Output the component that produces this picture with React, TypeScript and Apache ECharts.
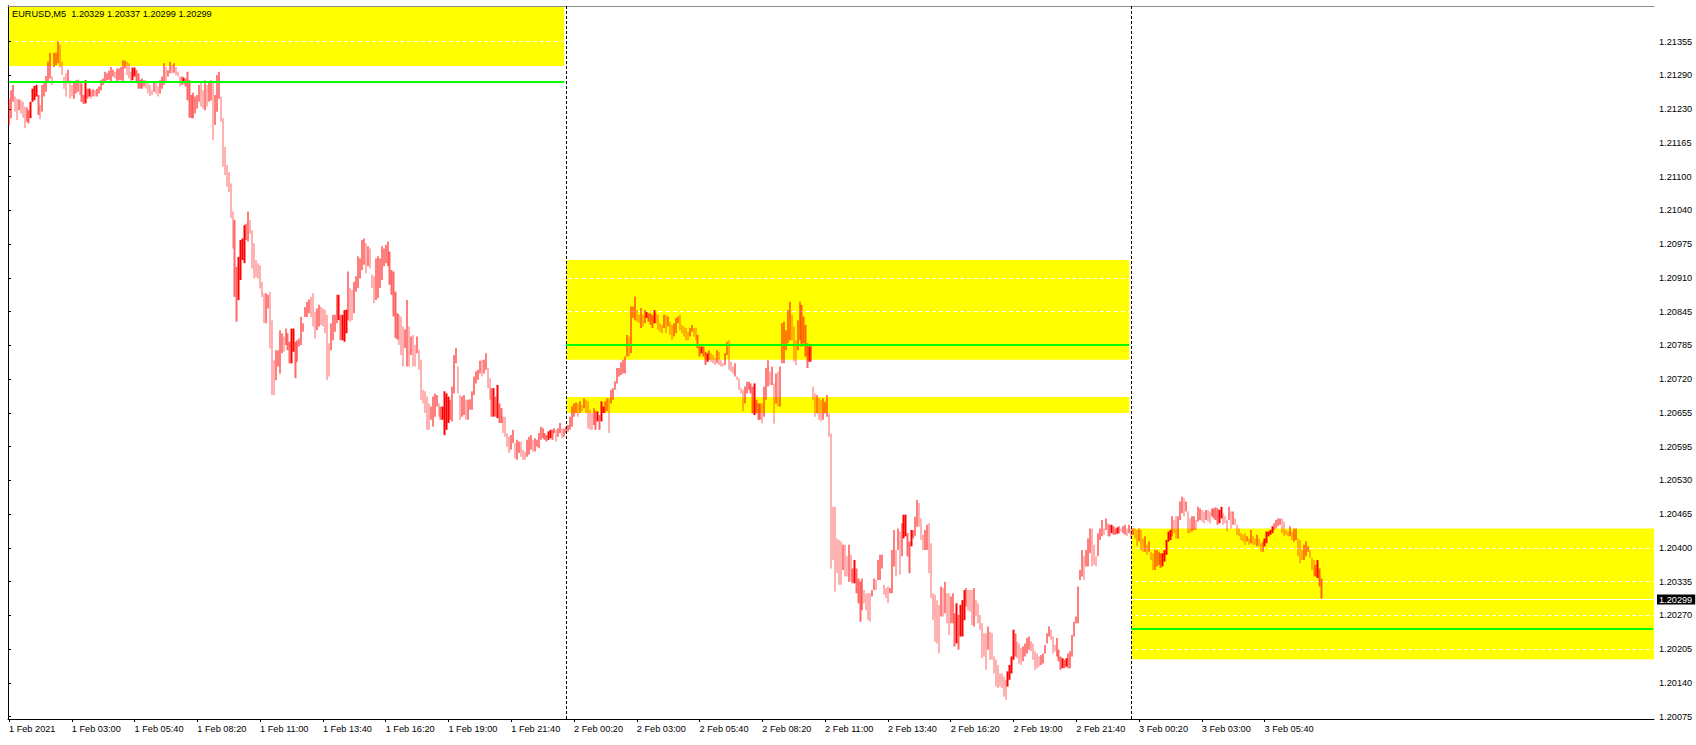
import React, { useEffect, useRef } from "react";
import * as echarts from "echarts";

// ---- quote info ----
const symbolName = "EURUSD";
const timeframe = "M5";
const lastQuote = [1.20329, 1.20337, 1.20299, 1.20299]; // O H L C of the last bar

// ---- bars: [high, low] in points above 1.20000 (5-digit quotes) ----
const barsPart1: number[][] = [
  [1247,1197],[1263,1210],[1273,1241],[1251,1222],[1247,1206],[1246,1225],[1244,1219],[1241,1211],[1232,1191],[1230,1203],
  [1225,1200],[1241,1210],[1266,1241],[1271,1244],[1273,1251],[1254,1216],[1235,1208],[1273,1222],[1276,1251],[1290,1260],
  [1317,1276],[1334,1285],[1289,1273],[1334,1307],[1334,1311],[1356,1314],[1349,1306],[1317,1292],[1289,1266],[1295,1251],
  [1302,1276],[1282,1247],[1273,1251],[1279,1247],[1282,1257],[1283,1260],[1276,1254],[1276,1241],[1254,1237],[1282,1238],
  [1266,1247],[1266,1251],[1263,1247],[1265,1251],[1263,1251],[1266,1251],[1270,1257],[1282,1263],[1285,1273],[1298,1276],
  [1295,1282],[1300,1283],[1307,1279],[1302,1289],[1298,1285],[1304,1279],[1304,1282],[1307,1282],[1320,1279],[1319,1304],
  [1317,1292],[1314,1285],[1298,1279],[1306,1282],[1306,1289],[1301,1279],[1295,1266],[1282,1266],[1285,1266],[1282,1270],
  [1282,1266],[1276,1257],[1273,1252],[1263,1254],[1279,1260],[1277,1257],[1270,1251],[1282,1257],[1289,1266],[1314,1273],
  [1307,1279],[1301,1289],[1317,1295],[1311,1295],[1314,1296],[1307,1292],[1298,1289],[1289,1270],[1289,1273],[1287,1276],
  [1285,1270],[1298,1244],[1282,1211],[1254,1210],[1258,1210],[1251,1219],[1254,1228],[1273,1241],[1279,1232],[1263,1228],
  [1282,1225],[1273,1232],[1279,1241],[1282,1244],[1276,1168],[1254,1197],[1292,1222],[1298,1247],[1251,1203],[1210,1118],
  [1156,1102],[1121,1080],[1108,1070],[1086,1020],[1033,963],[1017,871],[928,824],[947,865],[979,903],[982,941],
  [1007,935],[1010,979],[1033,976],[1017,991],[998,925],[973,906],[941,909],[935,906],[931,887],[900,871],
  [878,821],[878,821],[875,849],[881,773],[827,685],[751,685],[770,713],[770,739],[808,726],[802,764],
  [796,767],[811,780],[802,770],[786,745],[811,745],[811,767],[786,717],[789,748],[792,777],[833,780],
  [821,805],[852,833],[862,833],[866,840],[871,833],[878,815],[843,792],[849,808],[856,815],[852,818],
  [849,815],[846,802],[837,713],[783,720],[821,770],[837,789],[837,805],[875,821],[875,827],[837,789],
  [837,789],[846,786],[847,802]
];

const barsPart2: number[][] = [
  [919,827],[888,824],[884,827],[900,840],[910,881],[948,888],[944,906],[979,922],[982,932],[973,916],
  [967,929],[963,925],[913,888],[910,859],[944,865],[948,869],[944,888],[967,903],[963,929],[970,935],
  [976,929],[957,894],[922,875],[919,834],[881,793],[840,790],[837,780],[834,761],[815,739],[809,774],
  [865,739],[815,739],[796,761],[799,739],[780,739],[796,764],[771,733],[752,676],[695,669],[692,651],
  [682,619],[669,619],[663,638],[682,625],[688,644],[685,663],[669,644],[663,638],[663,638],[692,609],
  [688,619],[682,632],[676,638],[701,635],[761,688],[774,745],[739,688],[685,638],[682,644],[685,647],
  [676,638],[676,638],[677,657],[692,657],[720,685],[730,707],[733,714],[750,726],[752,720],[752,726],
  [764,733],[736,698],[717,676],[698,644],[698,644],[682,644],[704,641],[669,632],[660,632],[644,613],
  [644,606],[613,587],[606,575],[609,581],[619,594],[594,565],[600,562],[597,575],[597,568],[581,562],
  [578,562],[600,568],[606,572],[609,581],[600,578],[603,578],[600,587],[613,584],[625,600],[622,603],
  [613,600],[609,597],[616,600],[619,603],[619,600],[622,613],[619,597],[622,606],[632,613],[622,603],
  [621,606],[625,613],[628,616],[644,619],[663,625],[669,644],[671,651],[669,644],[673,651],[666,654],
  [679,660],[676,651],[673,622],[657,619],[651,619],[660,628],[654,619],[654,635],[647,619],[673,635],
  [663,651],[673,651],[679,654],[679,613],[695,669],[698,676],[711,695],[736,707],[736,720],[747,723],
  [752,726],[758,726],[799,758],[796,758],[853,764],[853,831],[872,827],[846,824],[837,821],[850,812],
  [837,815],[846,821],[843,831],[840,824],[840,818],[837,812],[846,821],[840,821],[837,809],[821,805],
  [818,802],[837,812],[837,802],[834,815],[824,799],[818,790],[821,796],[831,802],[834,821]
];

const barsPart3: number[][] = [
  [837,808],[818,802],[815,796],[812,789],[805,789],[812,796],[818,805],[812,796],[813,789],[799,774],
  [777,758],[777,764],[777,758],[767,742],[764,748],[770,751],[764,748],[761,745],[755,742],[770,745],
  [767,742],[751,739],[745,739],[764,742],[786,761],[789,733],[748,729],[739,726],[745,720],[720,714],
  [717,695],[698,688],[695,654],[701,669],[710,688],[710,695],[707,688],[701,650],[707,647],[676,650],
  [669,638],[669,638],[669,631],[701,644],[736,676],[751,701],[729,704],[739,704],[707,631],[726,669],
  [729,663],[739,663],[821,745],[824,745],[808,770],[846,783],[862,789],[837,789],[815,748],[789,742],
  [827,770],[862,789],[856,777],[834,783],[818,758],[783,736],[777,748],[780,748],[701,676],[688,644],
  [685,650],[679,638],[676,635],[679,638],[672,650],[685,644],[650,606],[612,356],[473,372],[473,312],
  [413,347],[410,325],[407,325],[401,353],[401,341],[379,341],[401,331],[382,331],[356,328],[372,328],
  [356,309],[337,290],[331,255],[337,277],[315,290],[309,277],[309,258],[309,255],[315,303],[337,315],
  [334,315],[372,334],[382,334],[382,356],[325,306],[319,300],[322,290],[319,309],[391,309],[429,360],
  [391,341],[432,391],[426,344],[442,379],[458,413],[458,417],[423,379],[407,347],[429,398],[429,413],
  [454,417],[486,435],[480,435],[451,410],[420,391],[429,391],[439,391],[442,347],[404,300],[309,258],
  [306,217],[296,214],[287,195],[322,265],[319,265],[331,271],[309,252],[309,230],[303,252],[309,252],
  [271,208],[290,214],[268,202],[287,227],[296,227],[315,258],[319,284],[315,277],[315,274],[315,249],
  [319,246],[296,265],[290,252],[268,240],[252,186],[233,189],[233,164],[246,202],[236,183],[233,183],
  [189,157],[183,132],[173,129],[157,132],[157,129],[151,113],[145,107],[161,132],[173,145],[189,157],
  [240,183],[233,189],[217,186]
];

const barsPart4: number[][] = [
  [214,176],[205,173],[208,180],[214,189],[224,195],[227,202],[218,199],[214,183],[199,164],[195,167],
  [189,170],[192,173],[195,176],[211,195],[233,214],[246,227],[240,221],[227,195],[211,199],[224,189],
  [202,180],[189,164],[186,167],[183,167],[186,170],[195,167],[199,167],[230,189],[255,227],[265,252],
  [322,252],[353,334],[391,341],[379,334],[391,360],[413,360],[432,385],[432,360],[401,363],[379,360],
  [423,379],[432,410],[448,417],[432,420],[451,429],[442,417],[439,417],[439,423],[436,420],[432,420],
  [434,422],[436,423],[432,426],[436,423],[439,420],[432,417],[439,423],[432,413],[432,420],[432,413],
  [429,398],[432,407],[429,391],[413,388],[417,388],[401,382],[407,388],[388,372],[385,353],[391,353],
  [391,360],[388,363],[385,357],[385,360],[391,369],[410,382],[426,407],[429,410],[455,417],[448,423],
  [455,413],[455,413],[483,448],[492,461],[489,455],[483,464],[464,423],[451,423],[455,426],[455,429],
  [448,429],[473,445],[470,448],[467,445],[464,442],[467,448],[467,445],[464,442],[470,455],[470,451],
  [472,448],[470,439],[467,442],[473,451],[461,439],[455,442],[448,426],[473,448],[464,432],[464,439],
  [451,439],[439,420],[432,417],[423,410],[420,407],[423,401],[417,407],[413,401],[429,404],[417,401],
  [413,401],[420,398],[413,398],[404,388],[407,388],[413,398],[426,404],[426,417],[429,420],[436,423],
  [442,429],[448,432],[451,436],[451,439],[451,423],[445,417],[429,420],[426,417],[436,417],[426,410],
  [432,407],[432,410],[413,379],[410,366],[391,372],[401,372],[407,379],[398,388],[391,376],[376,353],
  [372,341],[363,341],[372,338],[356,322],[337,299]
];

// ---- time axis ----
const slotCount = 839; // bar slots visible across the chart width (incl. empty right shift)
const labelEvery = 32; // one time label every 32 bars
const timeLabels = [
  "1 Feb 2021", "1 Feb 03:00", "1 Feb 05:40", "1 Feb 08:20", "1 Feb 11:00", "1 Feb 13:40", "1 Feb 16:20",
  "1 Feb 19:00", "1 Feb 21:40", "2 Feb 00:20", "2 Feb 03:00", "2 Feb 05:40", "2 Feb 08:20", "2 Feb 11:00",
  "2 Feb 13:40", "2 Feb 16:20", "2 Feb 19:00", "2 Feb 21:40", "3 Feb 00:20", "3 Feb 03:00", "3 Feb 05:40"
];
const daySeparators = [284, 572]; // bar index of 2 Feb 00:00 and 3 Feb 00:00

// ---- price axis ----
const yMin = 1.200706;
const yMax = 1.214227;
const yTickValues = [
  1.20075, 1.20139, 1.20203, 1.20267, 1.20331, 1.20395, 1.20459, 1.20523, 1.20587, 1.20651, 1.20715,
  1.20779, 1.20843, 1.20907, 1.20971, 1.21035, 1.21099, 1.21163, 1.21227, 1.21291, 1.21355
];
const yTickLabels = [
  "1.20075", "1.20140", "1.20205", "1.20270", "1.20335", "1.20400", "1.20465", "1.20530", "1.20595", "1.20655", "1.20720",
  "1.20785", "1.20845", "1.20910", "1.20975", "1.21040", "1.21100", "1.21165", "1.21230", "1.21290", "1.21355"
];

// ---- drawn objects: zones [startBar, endBar, low, high], levels [startBar, endBar, price] ----
const zones = [
  [0, 283, 1.21309, 1.2150],
  [284, 571, 1.20752, 1.20941],
  [284, 571, 1.20651, 1.20681],
  [572, 838, 1.20184, 1.20432]
];
const levels = [
  [0, 283, 1.21279],
  [284, 571, 1.20780],
  [572, 838, 1.20242]
];

const FONT = "'Liberation Sans', Arial, sans-serif";
const FS = 9.2;

export default function App() {
  const ref = useRef<HTMLDivElement>(null);

  useEffect(() => {
    if (!ref.current) return;
    const chart = echarts.init(ref.current, undefined, { renderer: "svg" });

    const bars = [...barsPart1, ...barsPart2, ...barsPart3, ...barsPart4];
    const toPrice = (p: number) => Math.round((1.2 + p / 100000) * 100000) / 100000;
    const candles = bars.map((b, i) => {
      const hi = toPrice(b[0]);
      const lo = toPrice(b[1]);
      const mid = (b[0] + b[1]) / 2;
      const prev = i > 0 ? (bars[i - 1][0] + bars[i - 1][1]) / 2 : mid;
      const up = mid >= prev;
      return up ? [lo, hi, lo, hi] : [hi, lo, lo, hi];
    });
    const categories = Array.from({ length: slotCount }, (_, i) => String(i));
    const isLabelSlot = (idx: number) => idx % labelEvery === 0 && idx / labelEvery < timeLabels.length;
    const bid = lastQuote[3];

    const option: any = {
      animation: false,
      backgroundColor: "#ffffff",
      title: {
        text: `${symbolName},${timeframe}  ${lastQuote.map((v) => v.toFixed(5)).join(" ")}`,
        left: 12,
        top: 9,
        padding: 0,
        textStyle: { fontSize: FS, fontWeight: "normal", fontFamily: FONT, color: "#000" },
        z: 10
      },
      grid: { left: 8, right: 42, top: 6, bottom: 26, containLabel: false },
      xAxis: [
        {
          type: "category",
          data: categories,
          boundaryGap: true,
          axisLine: { show: true, lineStyle: { color: "#000", width: 1 } },
          axisTick: { show: true, alignWithLabel: true, interval: (i: number) => isLabelSlot(i), length: 3, lineStyle: { color: "#000" } },
          axisLabel: {
            show: true,
            interval: (i: number) => isLabelSlot(i),
            formatter: (v: string) => timeLabels[Number(v) / labelEvery] ?? "",
            align: "left",
            margin: 5,
            fontSize: FS,
            fontFamily: FONT,
            color: "#000"
          },
          splitLine: { show: false }
        },
        {
          type: "value",
          position: "top",
          min: 0,
          max: 1,
          axisLine: { show: true, lineStyle: { color: "#8c8c8c", width: 1 } },
          axisTick: { show: false },
          axisLabel: { show: false },
          splitLine: { show: false }
        }
      ],
      yAxis: [
        {
          type: "value",
          position: "right",
          min: yMin,
          max: yMax,
          z: 0,
          axisLine: { show: true, lineStyle: { color: "#000", width: 1 } },
          axisTick: { show: true, length: 3, customValues: yTickValues, lineStyle: { color: "#000" } },
          axisLabel: {
            show: true,
            customValues: yTickValues,
            formatter: (v: number) => {
              const k = yTickValues.findIndex((t) => Math.abs(t - v) < 1e-7);
              return k >= 0 ? yTickLabels[k] : "";
            },
            margin: 5,
            fontSize: FS,
            fontFamily: FONT,
            color: "#000"
          },
          splitLine: { show: true, lineStyle: { color: "#ffffff", type: [4, 3], width: 1 } }
        },
        {
          type: "value",
          position: "left",
          min: 0,
          max: 1,
          axisLine: { show: true, lineStyle: { color: "#000", width: 1 } },
          axisTick: { show: false },
          axisLabel: { show: false },
          splitLine: { show: false }
        }
      ],
      series: [
        {
          type: "custom",
          name: "zones",
          xAxisIndex: 0,
          yAxisIndex: 0,
          z: -2,
          silent: true,
          encode: { x: [0, 1], y: [2, 3] },
          data: zones,
          renderItem: (params: any, api: any) => {
            const cs = params.coordSys;
            const s = api.value(0), e = api.value(1), lo = api.value(2), hi = api.value(3);
            const pTop = api.coord([s, hi]);
            const pBot = api.coord([e, lo]);
            const x0 = s <= 0 ? cs.x : pTop[0];
            const x1 = e >= slotCount - 1 ? cs.x + cs.width : pBot[0];
            const y0 = Math.max(pTop[1], cs.y);
            const y1 = Math.min(pBot[1], cs.y + cs.height);
            return { type: "rect", shape: { x: x0, y: y0, width: x1 - x0, height: y1 - y0 }, style: { fill: "#ffff00" } };
          }
        },
        {
          type: "custom",
          name: "bid",
          xAxisIndex: 0,
          yAxisIndex: 0,
          z: -1,
          silent: true,
          clip: false,
          encode: { x: 0, y: 1 },
          data: [[0, bid]],
          renderItem: (params: any, api: any) => {
            const cs = params.coordSys;
            const p = api.coord([0, api.value(1)]);
            const y = Math.round(p[1]) + 0.5;
            return {
              type: "group",
              children: [
                { type: "line", shape: { x1: cs.x, y1: y, x2: cs.x + cs.width, y2: y }, style: { stroke: "#ffffff", lineWidth: 1 } },
                {
                  type: "text",
                  x: cs.x + cs.width + 3,
                  y: y,
                  style: {
                    text: api.value(1).toFixed(5),
                    fill: "#ffffff",
                    backgroundColor: "#000000",
                    padding: [0, 3, 0, 2],
                    lineHeight: 10,
                    fontSize: FS,
                    fontFamily: FONT,
                    align: "left",
                    verticalAlign: "middle"
                  }
                }
              ]
            };
          }
        },
        {
          type: "candlestick",
          name: symbolName,
          xAxisIndex: 0,
          yAxisIndex: 0,
          z: 2,
          large: false,
          progressive: 0,
          silent: true,
          barWidth: 1.7,
          data: candles,
          itemStyle: {
            color: "#ff0000",
            color0: "rgba(255,0,0,0.6)",
            borderColor: "#ff0000",
            borderColor0: "rgba(255,0,0,0.6)",
            borderWidth: 0
          },
          markLine: {
            silent: true,
            animation: false,
            symbol: ["none", "none"],
            label: { show: false },
            data: [
              ...daySeparators.map((i) => ({ xAxis: String(i), lineStyle: { color: "#000", type: [3, 2], width: 1 } })),
              ...levels.map((l) => [
                { coord: [String(l[0]), l[2]], lineStyle: { color: "#00ff00", type: "solid", width: 2 } },
                { coord: [String(l[1]), l[2]] }
              ])
            ]
          }
        }
      ]
    };

    chart.setOption(option);
    return () => chart.dispose();
  }, []);

  return (
    <div
      ref={ref}
      style={{ position: "fixed", left: 0, top: 0, width: 1696, height: 745, background: "#fff" }}
    />
  );
}
